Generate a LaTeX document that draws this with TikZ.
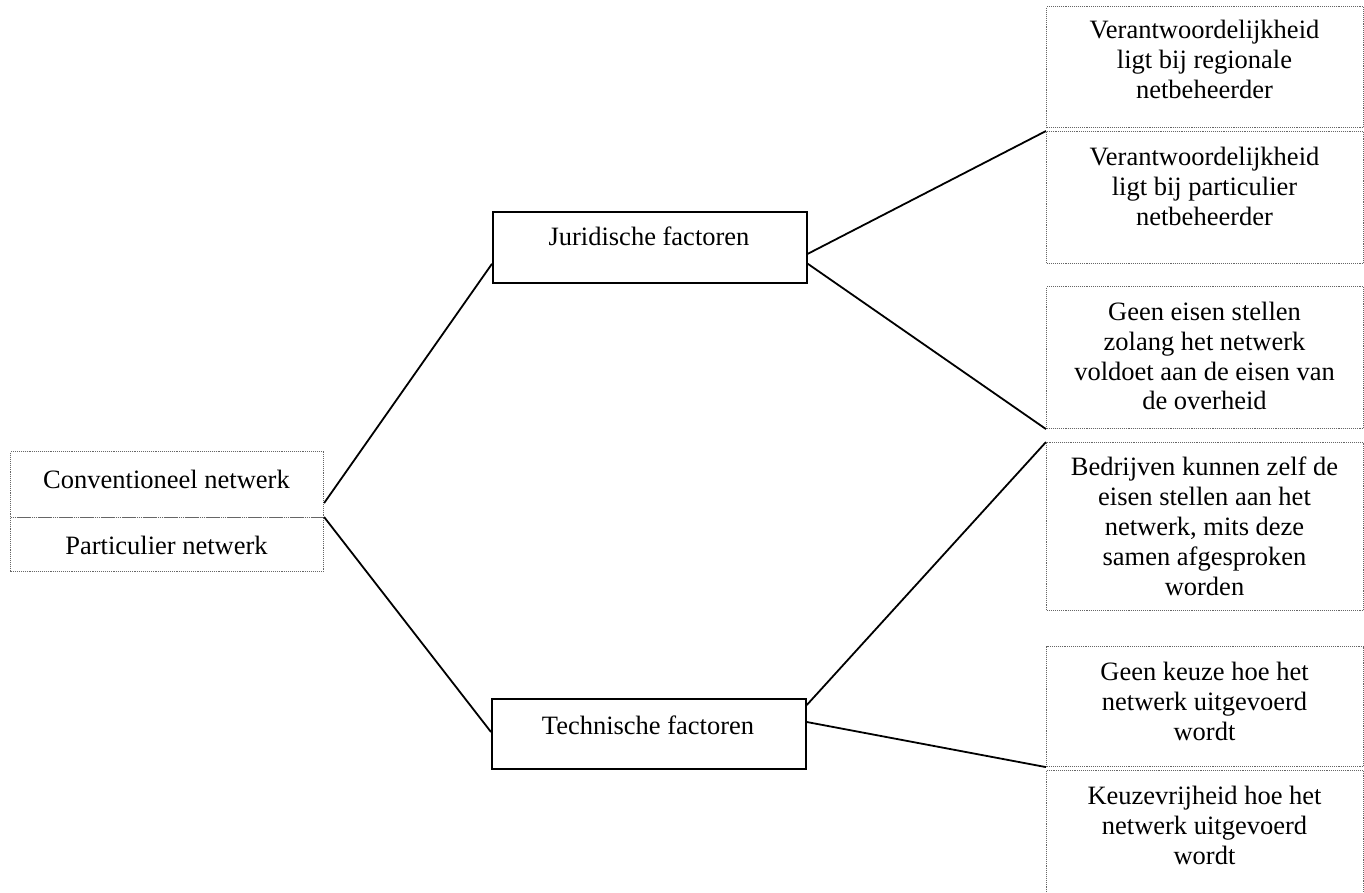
\documentclass[tikz,border=0pt]{standalone}
\usepackage{fontspec}
\setmainfont{Liberation Serif}
\begin{document}
\begin{tikzpicture}[x=1pt,y=-1pt,
  sidebox/.style={draw=black!60, densely dotted, line width=1.1pt, inner sep=0pt, anchor=north west},
  factorbox/.style={draw=black, line width=1.8pt, inner sep=0pt, anchor=north west},
  txt/.style={align=center, inner sep=0pt, anchor=north, font=\fontsize{26.5}{29.8}\selectfont},
  link/.style={draw=black, line width=1.8pt}]
\useasboundingbox (0,0) rectangle (1364,892);

% left: the two kinds of network
\node[sidebox, minimum width=313pt, minimum height=66pt] (conv) at (10,451) {};
\node[sidebox, minimum width=313pt, minimum height=54pt] (part) at (10,517) {};
\node[txt] (convt) at (166.5,470) {Conventioneel netwerk};
\node[txt] (partt) at (166.5,536) {Particulier netwerk};

% middle: the two groups of factors
\node[factorbox, minimum width=314pt, minimum height=71pt] (jur) at (492,211) {};
\node[factorbox, minimum width=314pt, minimum height=70pt] (tech) at (491,698) {};
\node[txt] (jurt) at (649,227) {Juridische factoren};
\node[txt] (techt) at (648,716) {Technische factoren};

% right: the outcomes per factor
\node[sidebox, minimum width=317pt, minimum height=121pt] (r1) at (1046,6) {};
\node[sidebox, minimum width=317pt, minimum height=132pt] (r2) at (1046,131) {};
\node[sidebox, minimum width=317pt, minimum height=142pt] (r3) at (1046,286) {};
\node[sidebox, minimum width=317pt, minimum height=168pt] (r4) at (1046,442) {};
\node[sidebox, minimum width=317pt, minimum height=120pt] (r5) at (1046,646) {};
\node[sidebox, minimum width=317pt, minimum height=130pt] (r6) at (1046,770) {};

\node[txt] (r1t) at (1204.5,20) {Verantwoordelijkheid\\ligt bij regionale\\netbeheerder};
\node[txt] (r2t) at (1204.5,147) {Verantwoordelijkheid\\ligt bij particulier\\netbeheerder};
\node[txt] (r3t) at (1204.5,302) {Geen eisen stellen\\zolang het netwerk\\voldoet aan de eisen van\\de overheid};
\node[txt] (r4t) at (1204.5,457) {Bedrijven kunnen zelf de\\eisen stellen aan het\\netwerk, mits deze\\samen afgesproken\\worden};
\node[txt] (r5t) at (1204.5,662) {Geen keuze hoe het\\netwerk uitgevoerd\\wordt};
\node[txt] (r6t) at (1204.5,786) {Keuzevrijheid hoe het\\netwerk uitgevoerd\\wordt};

% connectors
\draw[link] ([yshift=15pt]conv.south east) -- ([yshift=20pt]jur.south west);
\draw[link] (part.north east) -- ([yshift=-34pt]tech.north west);
\draw[link] ([yshift=30pt]jur.south east) -- (r2.north west);
\draw[link] ([yshift=20pt]jur.south east) -- (r3.south west);
\draw[link] ([yshift=-7pt]tech.north east) -- (r4.north west);
\draw[link] ([yshift=-24pt]tech.north east) -- (r5.south west);
\end{tikzpicture}
\end{document}
